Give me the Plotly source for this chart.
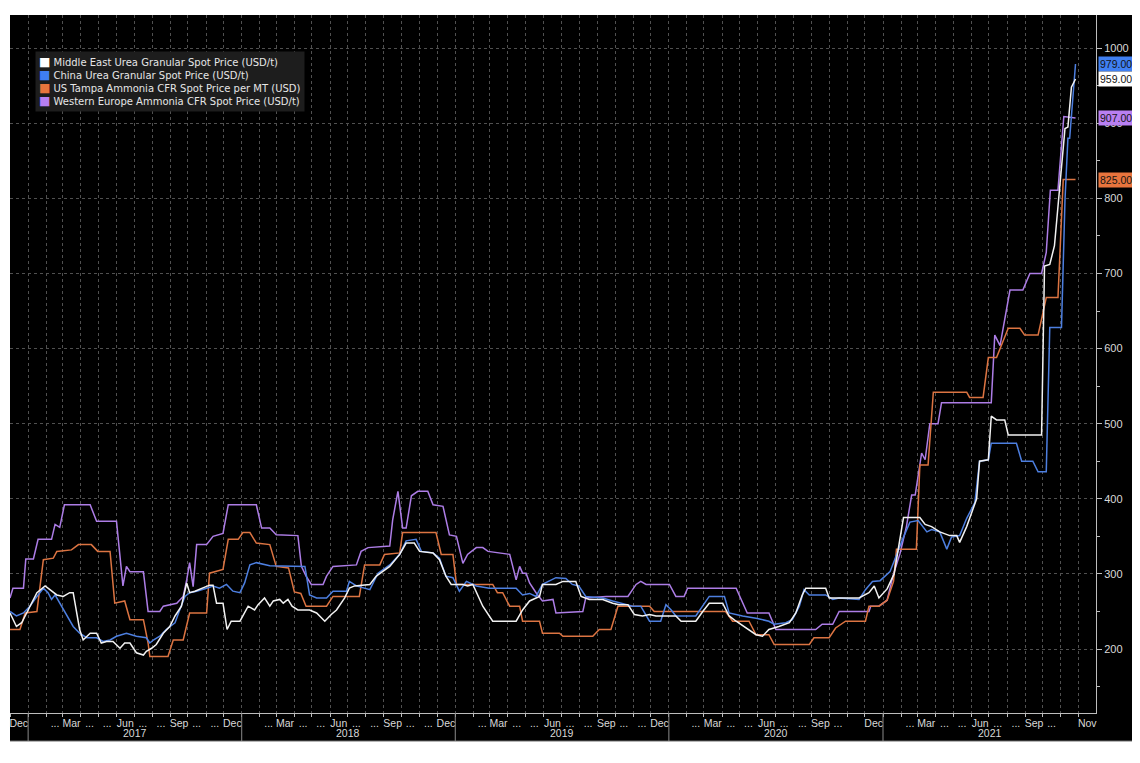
import pandas as pd
import plotly.graph_objects as go

# ------------------------------------------------------------
# Spot prices (USD)
# ------------------------------------------------------------
# Middle East Urea Granular
me_dates = [
    "2016-12-01", "2016-12-12", "2016-12-21",
    "2017-01-04", "2017-01-16", "2017-01-30", "2017-02-07", "2017-02-19", "2017-03-02", "2017-03-13",
    "2017-03-19", "2017-03-23", "2017-03-30", "2017-04-05", "2017-04-17", "2017-04-28", "2017-05-06",
    "2017-05-15", "2017-05-26", "2017-06-07", "2017-06-15", "2017-06-24", "2017-07-05", "2017-07-17",
    "2017-07-22", "2017-07-31", "2017-08-08", "2017-08-20", "2017-08-31", "2017-09-09", "2017-09-20",
    "2017-09-29", "2017-10-04", "2017-10-13", "2017-10-27", "2017-11-07", "2017-11-13", "2017-11-19",
    "2017-11-30", "2017-12-07", "2017-12-14", "2017-12-29",
    "2018-01-12", "2018-01-23", "2018-01-29", "2018-02-09", "2018-02-18", "2018-02-24", "2018-03-07",
    "2018-03-13", "2018-03-21", "2018-03-28", "2018-04-07", "2018-04-27", "2018-05-09", "2018-05-23",
    "2018-06-03", "2018-06-12", "2018-06-26", "2018-07-04", "2018-07-13", "2018-08-08", "2018-08-19",
    "2018-09-11", "2018-09-28", "2018-10-09", "2018-10-23", "2018-11-01", "2018-11-24", "2018-12-05",
    "2018-12-16", "2018-12-25",
    "2019-01-14", "2019-01-22", "2019-01-31", "2019-02-17", "2019-03-06", "2019-04-15", "2019-04-26",
    "2019-05-08", "2019-05-25", "2019-05-30", "2019-06-22", "2019-07-04", "2019-07-26", "2019-08-04",
    "2019-08-18", "2019-09-10", "2019-09-27", "2019-10-08", "2019-10-23", "2019-11-03", "2019-11-17",
    "2019-11-29", "2019-12-10",
    "2020-01-13", "2020-01-22", "2020-02-16", "2020-02-28", "2020-03-10", "2020-04-02", "2020-04-13",
    "2020-04-25", "2020-05-12", "2020-05-29", "2020-06-09", "2020-06-20", "2020-07-07", "2020-07-25",
    "2020-08-05", "2020-08-16", "2020-08-22", "2020-09-25", "2020-10-01", "2020-11-21", "2020-12-08",
    "2020-12-17", "2020-12-25",
    "2021-01-08", "2021-01-20", "2021-02-05", "2021-03-05", "2021-03-14", "2021-03-25", "2021-04-08",
    "2021-04-25", "2021-05-07", "2021-05-12", "2021-05-24", "2021-06-10", "2021-06-15", "2021-06-30",
    "2021-07-05", "2021-07-14", "2021-07-28", "2021-08-03", "2021-09-29", "2021-10-04", "2021-10-13",
    "2021-10-21", "2021-10-30", "2021-11-08", "2021-11-13", "2021-11-19", "2021-11-26",
]
me_vals = [
    248, 230, 235,
    257, 275, 284, 279, 272, 270, 275,
    275, 258, 226, 212, 221, 221, 208,
    210, 210, 201, 208, 208, 195, 192,
    197, 201, 206, 221, 230, 244, 257,
    288, 275, 277, 281, 285, 285, 261,
    261, 226, 237, 237,
    257, 252, 259, 268, 257, 264, 266,
    261, 266, 257, 252, 252, 248, 237,
    246, 252, 268, 281, 284, 286, 297,
    310, 326, 341, 341, 330, 328, 319,
    297, 286,
    286, 284, 286, 257, 237, 237, 252,
    264, 270, 286, 286, 290, 290, 270,
    266, 266, 261, 259, 259, 246, 244,
    246, 244,
    244, 237, 237, 250, 261, 261, 244,
    237, 228, 219, 217, 226, 230, 235,
    248, 272, 281, 281, 268, 268, 275,
    284, 268,
    280, 300, 375, 375, 366, 363, 356,
    351, 351, 342, 363, 400, 450, 452,
    510, 505, 505, 485, 485, 710, 712,
    737, 815, 893, 895, 948, 959,
]

# China Urea Granular
cn_dates = [
    "2016-12-01", "2016-12-12", "2016-12-24",
    "2017-01-04", "2017-01-16", "2017-01-27", "2017-02-04", "2017-02-10", "2017-02-16", "2017-02-24",
    "2017-03-08", "2017-03-19", "2017-03-30", "2017-04-11", "2017-04-28", "2017-05-09", "2017-05-21",
    "2017-06-01", "2017-06-18", "2017-07-05", "2017-07-22", "2017-07-28", "2017-08-03", "2017-08-14",
    "2017-08-25", "2017-09-09", "2017-09-17", "2017-09-26", "2017-10-04", "2017-10-16", "2017-11-02",
    "2017-11-13", "2017-11-24", "2017-12-06", "2017-12-17", "2017-12-29",
    "2018-01-06", "2018-01-15", "2018-01-26", "2018-02-18", "2018-04-19", "2018-04-27", "2018-05-09",
    "2018-05-26", "2018-06-06", "2018-06-29", "2018-07-04", "2018-07-16", "2018-08-08", "2018-08-22",
    "2018-09-11", "2018-09-28", "2018-10-09", "2018-10-26", "2018-11-04", "2018-11-24", "2018-12-05",
    "2018-12-16", "2018-12-28",
    "2019-01-08", "2019-01-20", "2019-02-06", "2019-02-28", "2019-04-15", "2019-04-26", "2019-05-08",
    "2019-05-19", "2019-05-30", "2019-06-22", "2019-07-09", "2019-07-20", "2019-07-31", "2019-08-12",
    "2019-09-10", "2019-09-27", "2019-10-23", "2019-10-31", "2019-11-14", "2019-11-29", "2019-12-18",
    "2019-12-27",
    "2020-01-05", "2020-01-13", "2020-02-16", "2020-02-28", "2020-03-10", "2020-04-05", "2020-04-13",
    "2020-05-06", "2020-05-29", "2020-06-20", "2020-06-29", "2020-07-19", "2020-07-30", "2020-08-11",
    "2020-08-19", "2020-08-28", "2020-09-25", "2020-10-07", "2020-10-18", "2020-11-21", "2020-12-02",
    "2020-12-14", "2020-12-27",
    "2021-01-13", "2021-01-24", "2021-02-05", "2021-02-16", "2021-03-02", "2021-03-17", "2021-03-25",
    "2021-04-08", "2021-04-20", "2021-04-28", "2021-05-12", "2021-05-24", "2021-06-07", "2021-06-15",
    "2021-06-30", "2021-07-05", "2021-08-17", "2021-08-26", "2021-09-14", "2021-09-23", "2021-10-07",
    "2021-10-13", "2021-11-02", "2021-11-08", "2021-11-13", "2021-11-16", "2021-11-22", "2021-11-26",
]
cn_vals = [
    250, 244, 248,
    257, 270, 281, 275, 266, 272, 261,
    244, 230, 221, 215, 215, 210, 212,
    217, 221, 217, 215, 208, 212, 217,
    226, 235, 252, 270, 275, 277, 281,
    284, 281, 286, 277, 275,
    288, 312, 315, 311, 310, 272, 268,
    268, 277, 277, 290, 284, 279, 301,
    312, 326, 344, 346, 330, 328, 321,
    297, 295,
    277, 290, 284, 281, 281, 272, 274,
    270, 286, 295, 294, 286, 284, 270,
    268, 264, 259, 257, 257, 237, 237,
    259,
    252, 244, 244, 257, 270, 270, 248,
    244, 241, 237, 233, 235, 239, 257,
    279, 272, 272, 266, 268, 266, 279,
    290, 291,
    303, 326, 349, 369, 371, 356, 359,
    356, 333, 349, 351, 374, 395, 450,
    452, 474, 474, 450, 450, 436, 436,
    628, 628, 798, 880, 880, 940, 979,
]

# US Tampa Ammonia CFR
us_dates = [
    "2016-12-01", "2016-12-18", "2016-12-27",
    "2017-01-16", "2017-01-27", "2017-02-13", "2017-02-19", "2017-03-16", "2017-03-28", "2017-04-19",
    "2017-04-30", "2017-05-21", "2017-05-29", "2017-06-15", "2017-06-24", "2017-07-17", "2017-07-25",
    "2017-07-28", "2017-08-28", "2017-09-06", "2017-09-23", "2017-10-04", "2017-11-02", "2017-11-07",
    "2017-11-30", "2017-12-09", "2017-12-26",
    "2018-01-03", "2018-01-15", "2018-01-26", "2018-02-18", "2018-03-01", "2018-03-22", "2018-04-01",
    "2018-04-12", "2018-04-21", "2018-05-26", "2018-06-06", "2018-07-21", "2018-07-30", "2018-08-25",
    "2018-09-02", "2018-09-28", "2018-10-03", "2018-11-29", "2018-12-08", "2018-12-28",
    "2019-01-03", "2019-03-06", "2019-03-14", "2019-03-23", "2019-04-04", "2019-04-21", "2019-04-26",
    "2019-05-25", "2019-05-30", "2019-06-28", "2019-07-04", "2019-08-24", "2019-09-04", "2019-09-24",
    "2019-10-06", "2019-11-29", "2019-12-07",
    "2020-04-07", "2020-04-19", "2020-05-17", "2020-05-29", "2020-06-20", "2020-06-29", "2020-08-28",
    "2020-09-05", "2020-10-01", "2020-10-12", "2020-10-29", "2020-12-02", "2020-12-08", "2020-12-25",
    "2021-01-08", "2021-01-19", "2021-01-24", "2021-02-27", "2021-03-05", "2021-03-19", "2021-03-28",
    "2021-05-24", "2021-05-29", "2021-06-21", "2021-06-30", "2021-07-14", "2021-08-03", "2021-08-23",
    "2021-08-31", "2021-09-23", "2021-10-07", "2021-10-27", "2021-11-05", "2021-11-26",
]
us_vals = [
    226, 226, 248,
    250, 319, 321, 330, 332, 339, 339,
    330, 330, 261, 264, 239, 239, 208,
    190, 190, 212, 212, 248, 248, 301,
    306, 346, 346,
    355, 355, 341, 339, 310, 308, 276,
    274, 257, 257, 270, 270, 312, 312,
    326, 328, 355, 355, 326, 326,
    286, 286, 275, 275, 257, 257, 237,
    237, 221, 221, 217, 217, 226, 226,
    257, 257, 250,
    250, 237, 237, 219, 219, 206, 206,
    215, 215, 228, 237, 237, 257, 257,
    265, 290, 333, 333, 445, 445, 542,
    542, 535, 535, 588, 588, 627, 627,
    618, 618, 668, 668, 825, 825,
]

# Western Europe Ammonia CFR
we_dates = [
    "2016-12-01", "2016-12-06", "2016-12-24", "2016-12-28",
    "2017-01-10", "2017-01-18", "2017-02-10", "2017-02-16", "2017-02-24", "2017-03-04", "2017-04-17",
    "2017-04-28", "2017-06-01", "2017-06-12", "2017-06-18", "2017-06-24", "2017-07-17", "2017-07-25",
    "2017-08-14", "2017-08-20", "2017-09-12", "2017-09-23", "2017-09-29", "2017-10-04", "2017-10-10",
    "2017-10-16", "2017-11-02", "2017-11-13", "2017-11-30", "2017-12-09",
    "2018-01-26", "2018-02-04", "2018-02-18", "2018-03-01", "2018-04-07", "2018-04-13", "2018-04-21",
    "2018-04-30", "2018-05-20", "2018-05-26", "2018-06-06", "2018-07-16", "2018-07-24", "2018-08-05",
    "2018-09-11", "2018-09-16", "2018-09-25", "2018-10-03", "2018-10-09", "2018-10-18", "2018-10-29",
    "2018-11-15", "2018-11-24", "2018-12-11", "2018-12-22",
    "2019-01-03", "2019-01-14", "2019-01-22", "2019-02-06", "2019-02-17", "2019-02-26", "2019-04-04",
    "2019-04-15", "2019-04-21", "2019-04-26", "2019-05-02", "2019-05-08", "2019-05-19", "2019-05-30",
    "2019-06-17", "2019-06-22", "2019-08-07", "2019-08-12", "2019-09-16", "2019-10-23", "2019-11-06",
    "2019-11-14", "2019-11-23",
    "2020-01-02", "2020-01-13", "2020-01-27", "2020-02-02", "2020-04-25", "2020-05-14", "2020-06-20",
    "2020-07-02", "2020-09-08", "2020-09-19", "2020-10-07", "2020-10-18", "2020-12-08", "2020-12-11",
    "2020-12-25",
    "2021-01-08", "2021-01-19", "2021-01-30", "2021-02-10", "2021-02-19", "2021-02-25", "2021-03-08",
    "2021-03-14", "2021-03-22", "2021-04-05", "2021-04-11", "2021-07-05", "2021-07-11", "2021-07-20",
    "2021-07-25", "2021-08-06", "2021-08-28", "2021-09-09", "2021-09-29", "2021-10-07", "2021-10-14",
    "2021-10-27", "2021-11-06", "2021-11-26",
]
we_vals = [
    268, 281, 281, 320,
    320, 346, 346, 366, 362, 392, 392,
    370, 370, 284, 310, 303, 303, 250,
    250, 257, 261, 270, 292, 315, 283,
    339, 339, 350, 354, 392,
    392, 361, 361, 352, 351, 310, 297,
    286, 286, 297, 310, 312, 330, 335,
    337, 372, 410, 361, 361, 404, 410,
    410, 392, 390, 352,
    350, 314, 326, 335, 335, 330, 326,
    292, 310, 301, 301, 288, 275, 264,
    266, 248, 250, 268, 270, 270, 286,
    290, 286,
    286, 270, 270, 281, 281, 248, 248,
    226, 226, 233, 233, 250, 250, 257,
    257,
    265, 300, 327, 363, 405, 405, 461,
    452, 500, 500, 528, 528, 618, 604,
    625, 678, 678, 700, 700, 728, 811,
    811, 909, 907,
]

series_names = [
    "Middle East Urea Granular Spot Price (USD/t)",
    "China Urea Granular Spot Price (USD/t)",
    "US Tampa Ammonia CFR Spot Price per MT (USD)",
    "Western Europe Ammonia CFR Spot Price (USD/t)",
]
line_colors = ["#f2f2f2", "#4d7fe0", "#dc7442", "#ad7de6"]
tag_colors = ["#ffffff", "#3f7ff2", "#e8743d", "#b87ff2"]

# month axis labels (Bloomberg style: every third month named, "..." between)
month_labels = (
    ["Dec"]
    + ["", "...", "Mar", "...", "...", "Jun", "...", "...", "Sep", "...", "...", "Dec"] * 3
    + ["", "...", "Mar", "...", "...", "Jun", "...", "...", "Sep", "...", "", "Dec"]
    + ["", "...", "Mar", "...", "...", "Jun", "...", "...", "Sep", "...", "", "Nov"]
)
year_labels = ["2017", "2018", "2019", "2020", "2021"]

x_start, x_end = "2016-12-01", "2021-12-31"
y_min, y_max = 114.8, 1044.2

month_starts = pd.date_range("2016-12-01", "2021-12-01", freq="MS")
month_mid = month_starts + pd.Timedelta(days=15)

all_series = [
    (me_dates, me_vals),
    (cn_dates, cn_vals),
    (us_dates, us_vals),
    (we_dates, we_vals),
]
for d, v in all_series:
    assert len(d) == len(v)

fig = go.Figure()

# draw purple first, white last (on top)
for i in [3, 2, 1, 0]:
    d, v = all_series[i]
    fig.add_trace(go.Scatter(
        x=pd.to_datetime(d), y=v, mode="lines", name=series_names[i],
        line=dict(color=line_colors[i], width=1.5),
        showlegend=False,
    ))

# black chart background including the axis band below
band_bottom = -0.0401
band_right = 1.0359
fig.add_shape(type="rect", xref="paper", yref="paper", x0=0, x1=band_right, y0=band_bottom, y1=1,
              fillcolor="black", line_width=0, layer="below")
fig.add_shape(type="line", xref="paper", yref="paper", x0=0, x1=band_right, y0=band_bottom, y1=band_bottom,
              line=dict(color="#6a6a6a", width=1), layer="below")

# year separators and year labels
for yr in year_labels:
    fig.add_shape(type="line", xref="x", yref="paper", x0=f"{yr}-01-01", x1=f"{yr}-01-01",
                  y0=0, y1=band_bottom, line=dict(color="#8a8a8a", width=1))
    fig.add_annotation(x=f"{yr}-07-02", y=-0.0287, xref="x", yref="paper", text=yr,
                       xanchor="center", yanchor="middle",
                       showarrow=False, font=dict(size=10.5, color="#d9d9d9"))

# legend box (top-left)
legend_text = "<br>".join(
    f'<span style="color:{c};font-size:12px">■</span> {n}' for n, c in zip(series_names, tag_colors)
)
fig.add_annotation(x=0.023, y=0.948, xref="paper", yref="paper", xanchor="left", yanchor="top",
                   align="left", text=legend_text, showarrow=False, bgcolor="#1d1d1d", borderpad=3,
                   font=dict(family="DejaVu Sans, sans-serif", size=10, color="#e6e6e6"))

# last-value tags on the right axis
for i in [1, 0, 3, 2]:
    last = all_series[i][1][-1]
    fig.add_annotation(x=1, y=last, xref="paper", yref="y", xanchor="left", yanchor="middle", xshift=2,
                       text=f"{last:.2f}", showarrow=False, bgcolor=tag_colors[i], borderpad=1,
                       font=dict(size=10.5, color="#141414"))

# page body adds an 8px offset, so the figure is 8px smaller than the window
fig.update_layout(
    width=1132, height=755,
    margin=dict(l=2, r=44, t=7, b=50),
    paper_bgcolor="white", plot_bgcolor="black",
    showlegend=False,
    font=dict(family="Liberation Sans, Arial, sans-serif", size=11, color="#d9d9d9"),
)

fig.update_xaxes(
    range=[x_start, x_end],
    tickmode="array", tickvals=month_mid, ticktext=month_labels, tickangle=0,
    ticks="", ticklen=0, showgrid=False, zeroline=False,
    showline=True, linecolor="#bdbdbd", linewidth=1,
    tickfont=dict(size=10.5, color="#d9d9d9"),
    minor=dict(tickmode="array", tickvals=month_starts, ticks="outside", ticklen=3,
               tickcolor="#bdbdbd", showgrid=True, gridcolor="#505050", griddash="dot", gridwidth=1),
)

fig.update_yaxes(
    side="right", range=[y_min, y_max], tick0=0, dtick=100,
    ticks="outside", ticklen=5, tickcolor="#bdbdbd",
    showline=True, linecolor="#bdbdbd", linewidth=1,
    showgrid=True, gridcolor="#505050", griddash="dot", zeroline=False,
    tickfont=dict(size=11, color="#d9d9d9"),
    minor=dict(dtick=50, ticks="outside", ticklen=3, tickcolor="#bdbdbd", showgrid=False),
)

fig.write_html("out.html")
